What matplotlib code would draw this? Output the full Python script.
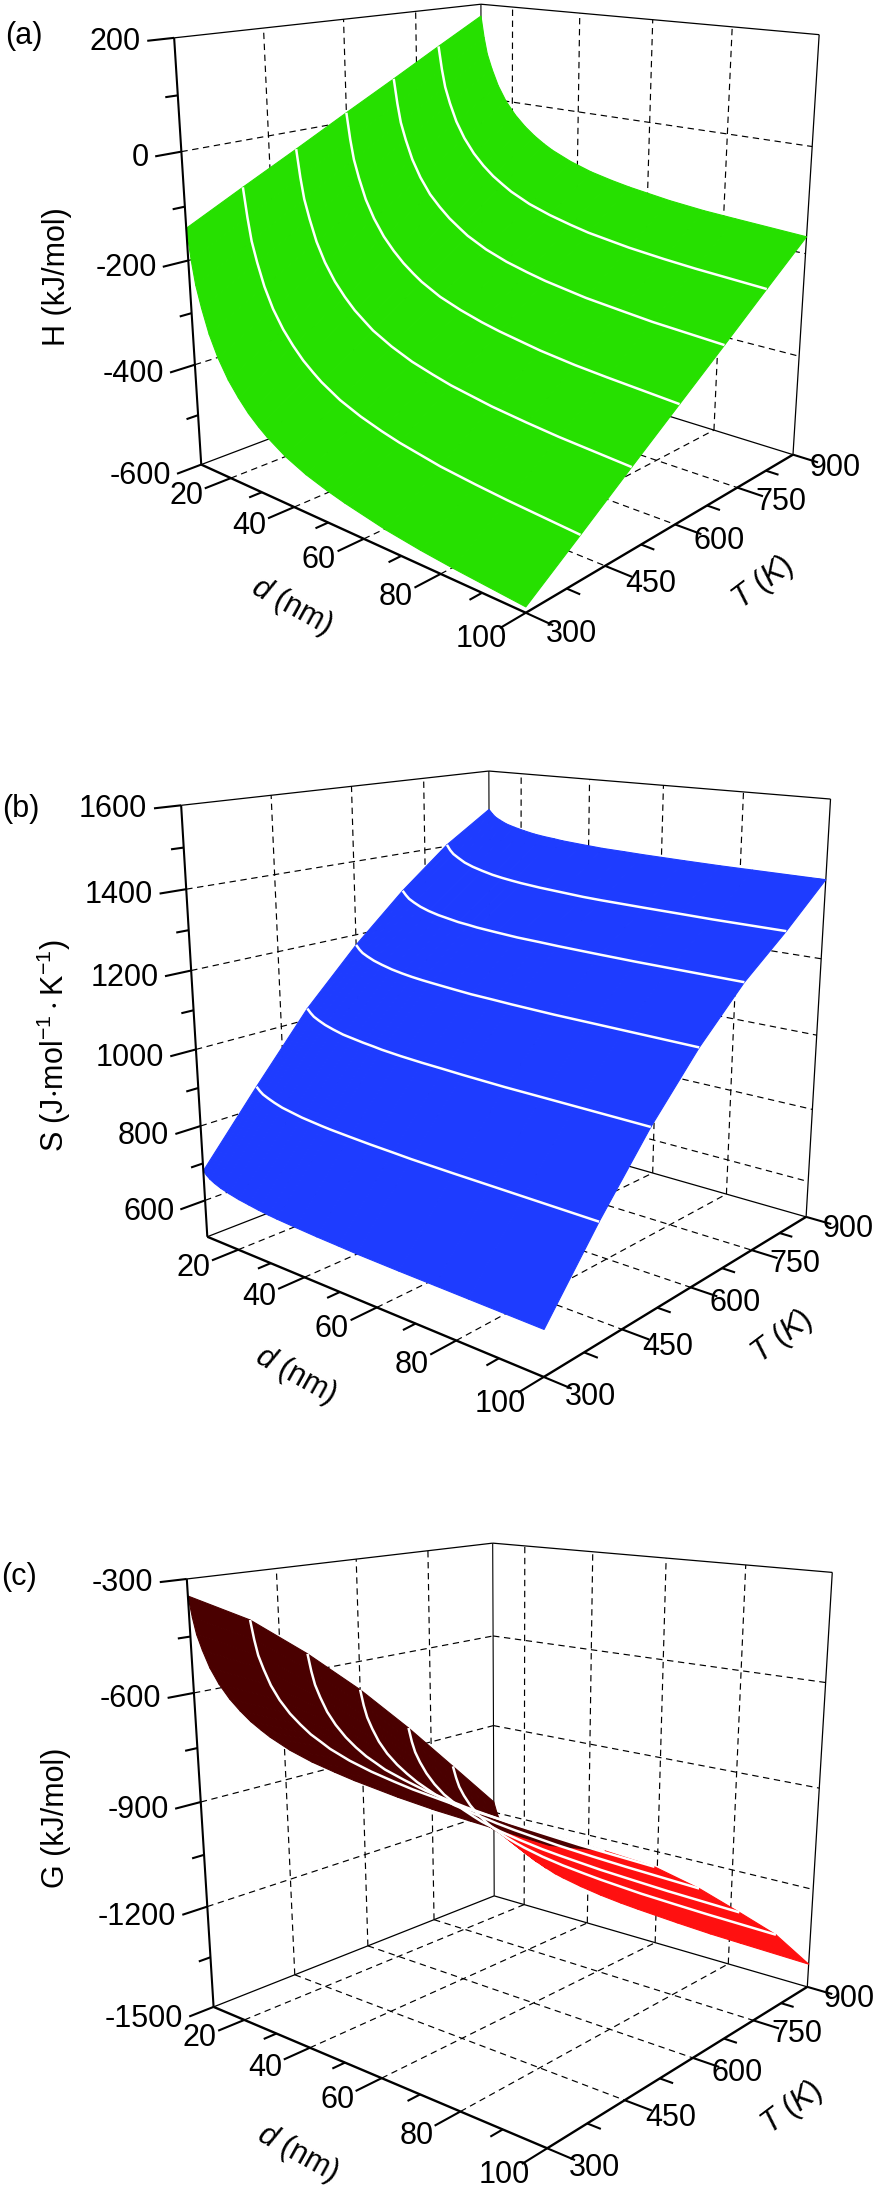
import numpy as np
import matplotlib
matplotlib.use('Agg')
import matplotlib.pyplot as plt
from mpl_toolkits.mplot3d import proj3d

plt.rcParams['font.family'] = ['Liberation Sans', 'DejaVu Sans']
plt.rcParams['mathtext.fontset'] = 'custom'
plt.rcParams['mathtext.rm'] = 'Liberation Sans'
plt.rcParams['mathtext.it'] = 'Liberation Sans:italic'
plt.rcParams['mathtext.default'] = 'regular'

D = [10, 11, 12, 13.5, 15.5, 18, 21, 24, 27, 30, 32.5, 38, 44, 50, 55, 66, 75, 83, 100]
T = [300, 400, 500, 600, 700, 800, 900]
H = [[-140,-198,-243,-284,-329,-369,-405,-432,-455,-473,-486,-509,-527,-540,-549,-565,-574,-580,-590],
     [-87,-143,-187,-226,-269,-308,-342,-368,-390,-407,-420,-442,-459,-472,-481,-496,-504,-510,-520],
     [-35,-89,-130,-167,-209,-246,-279,-304,-325,-341,-354,-374,-391,-403,-412,-426,-434,-440,-449],
     [18,-34,-73,-109,-149,-184,-216,-240,-260,-276,-288,-308,-323,-335,-343,-357,-365,-370,-379],
     [70,21,-17,-51,-89,-123,-154,-176,-195,-210,-222,-241,-256,-267,-275,-288,-295,-301,-309],
     [123,76,40,7,-29,-61,-90,-112,-130,-144,-155,-173,-187,-198,-206,-218,-225,-230,-238],
     [175,130,96,65,31,0,-27,-48,-65,-79,-89,-106,-120,-130,-137,-149,-156,-160,-168]]
S = [[680,671,664,657,650,644,638,634,630,627,625,622,619,617,615,613,612,611,609],
     [858,849,842,836,829,822,817,812,809,806,804,801,798,796,794,792,791,790,788],
     [1030,1020,1012,1005,997,990,983,979,975,972,969,965,962,960,958,955,954,953,951],
     [1172,1161,1153,1146,1138,1131,1124,1119,1115,1112,1110,1106,1102,1100,1098,1095,1094,1093,1091],
     [1296,1285,1276,1268,1259,1251,1244,1239,1234,1231,1228,1224,1220,1218,1216,1213,1211,1210,1208],
     [1404,1390,1380,1371,1360,1351,1343,1336,1331,1327,1324,1319,1315,1311,1309,1306,1304,1302,1300],
     [1488,1477,1468,1460,1451,1444,1437,1431,1427,1424,1421,1417,1413,1411,1409,1406,1404,1403,1401]]
G = [[-344,-399,-442,-481,-524,-562,-596,-622,-644,-661,-674,-696,-713,-725,-734,-749,-758,-763,-773],
     [-430,-483,-524,-560,-601,-637,-669,-693,-714,-729,-742,-762,-778,-790,-799,-813,-820,-826,-835],
     [-550,-599,-636,-670,-708,-741,-771,-794,-813,-827,-839,-856,-872,-883,-891,-904,-911,-917,-925],
     [-685,-731,-765,-797,-832,-863,-890,-911,-929,-943,-954,-972,-984,-995,-1002,-1014,-1021,-1026,-1034],
     [-837,-879,-910,-939,-970,-999,-1025,-1043,-1059,-1072,-1082,-1098,-1110,-1120,-1126,-1137,-1143,-1148,-1155],
     [-1000,-1036,-1064,-1090,-1117,-1142,-1164,-1181,-1195,-1206,-1214,-1228,-1239,-1247,-1253,-1263,-1268,-1272,-1278],
     [-1164,-1199,-1225,-1249,-1275,-1300,-1320,-1336,-1349,-1361,-1368,-1381,-1392,-1400,-1405,-1414,-1420,-1423,-1429]]

d_major = [20, 40, 60, 80, 100]
d_minor = [30, 50, 70, 90]
T_major = [300, 450, 600, 750, 900]
T_minor = [375, 525, 675, 825]
Ha_major = [-600, -400, -200, 0, 200]
Ha_minor = [-500, -300, -100, 100]
Sb_major = [600, 800, 1000, 1200, 1400, 1600]
Sb_minor = [700, 900, 1100, 1300, 1500]
Gc_major = [-1500, -1200, -900, -600, -300]
Gc_minor = [-1350, -1050, -750, -450]

# camera of each panel: elev, azim, focal length, box x, box y, axes centre px, axes size px
cam_a = (15.881, -48.187, np.exp(-1.047), np.exp(0.009), np.exp(-0.021), 489.621, 266.960, np.exp(6.601))
cam_b = (15.360, -49.811, np.exp(-1.026), np.exp(0.007), np.exp(0.004), 501.653, 1033.006, np.exp(6.609))
cam_c = (15.748, -49.813, np.exp(-1.031), np.exp(0.006), np.exp(0.003), 505.421, 1804.903, np.exp(6.602))

W, HH = 889, 2193
FS = 22
fig = plt.figure(figsize=(W/100, HH/100), dpi=100)
fig.patch.set_facecolor('white')


def panel(zv, zlim, zmaj, zmin, zgrid, color, cam, under=None):
    elev, azim, f, bx, by, cx, cy, s = cam
    ax = fig.add_axes([(cx-s/2)/W, 1-(cy+s/2)/HH, s/W, s/HH], projection='3d')
    ax.set_axis_off()
    ax.patch.set_alpha(0)
    ax.computed_zorder = False
    ax.view_init(elev=elev, azim=azim)
    ax.set_proj_type('persp', focal_length=float(f))
    ax.set_box_aspect((float(bx), float(by), 1.0))
    z0, z1 = zlim
    ax.set_xlim(10, 100, view_margin=0)
    ax.set_ylim(300, 900, view_margin=0)
    ax.set_zlim(z0, z1, view_margin=0)

    def L(xs, ys, zs, lw=1.0, ls='-', c='k', zo=1):
        ln, = ax.plot(xs, ys, zs, color=c, lw=lw, zorder=zo, clip_on=False, solid_capstyle='butt')
        if ls == '--':
            ln.set_dashes((5.4, 3.9))
        return ln

    for t in T_major[1:-1]:
        L([10, 10], [t, t], zlim, .85, '--')
        L([10, 100], [t, t], [z0, z0], .85, '--')
    for d in d_major[:-1]:
        L([d, d], [900, 900], zlim, .85, '--')
        L([d, d], [300, 900], [z0, z0], .85, '--')
    for z in zgrid:
        L([10, 10], [300, 900], [z, z], .85, '--')
        L([10, 100], [900, 900], [z, z], .85, '--')
    L([10, 10], [900, 900], zlim, .8)
    L([10, 10], [300, 900], [z1, z1], .9)
    L([10, 100], [900, 900], [z1, z1], .9)
    L([100, 100], [900, 900], zlim, .9)
    L([10, 10], [300, 900], [z0, z0], .9)
    L([10, 100], [900, 900], [z0, z0], .9)

    DD, TT = np.meshgrid(D, T)
    ZZ = np.array(zv, float)
    fc = np.empty(ZZ.shape + (4,))
    fc[...] = matplotlib.colors.to_rgba(color)
    if under is not None:
        M = ax.get_proj()
        x, y, _ = proj3d.proj_transform(DD.ravel(), TT.ravel(), ZZ.ravel(), M)
        x = np.asarray(x).reshape(ZZ.shape)
        y = np.asarray(y).reshape(ZZ.shape)
        for i in range(ZZ.shape[0]-1):
            for j in range(ZZ.shape[1]-1):
                a = ((x[i, j+1]-x[i, j])*(y[i+1, j]-y[i, j])
                     - (y[i, j+1]-y[i, j])*(x[i+1, j]-x[i, j]))
                if a < 0:
                    fc[i, j] = matplotlib.colors.to_rgba(under)
    ax.plot_surface(DD, TT, ZZ, facecolors=fc, rstride=1, cstride=1, shade=False,
                    antialiased=True, linewidth=.8, zorder=5)
    for i in range(1, 6):
        L(D, [T[i]]*len(D), ZZ[i], 1.8, c='white', zo=6)

    L([10, 10], [300, 300], zlim, 1.5, zo=7)
    L([10, 100], [300, 300], [z0, z0], 1.7, zo=7)
    L([100, 100], [300, 900], [z0, z0], 1.7, zo=7)
    for d in d_major:
        L([d, d], [255, 300], [z0, z0], 1.5, zo=7)
        ax.text(d, 224, z0, str(d), ha='center', va='center', fontsize=FS, zorder=8)
    for d in d_minor:
        L([d, d], [278, 300], [z0, z0], 1.5, zo=7)
    for t in T_major:
        L([100, 106], [t, t], [z0, z0], 1.5, zo=7)
        ax.text(110, t, z0, str(t), ha='center', va='center', fontsize=FS, zorder=8)
    for t in T_minor:
        L([100, 103], [t, t], [z0, z0], 1.5, zo=7)
    for z in zmaj:
        L([10, 10], [258, 300], [z, z], 1.5, zo=7)
        ax.text(10, 248, z, str(z), ha='right', va='center', fontsize=FS, zorder=8)
    for z in zmin:
        L([10, 10], [280, 300], [z, z], 1.5, zo=7)
    return ax


panel(H, (-600, 200), Ha_major, Ha_minor, [-400, -200, 0], '#26E000', cam_a)
panel(S, (500, 1600), Sb_major, Sb_minor, [600, 800, 1000, 1200, 1400], '#1E3CFF', cam_b)
panel(G, (-1500, -300), Gc_major, Gc_minor, [-1200, -900, -600], '#4A0000', cam_c, under='#FF1010')


def ftext(x, y, s, **kw):
    fig.text(x/W, 1-y/HH, s, ha='center', va='center', fontsize=FS, **kw)


ftext(24, 36, '(a)')
ftext(21, 809, '(b)')
ftext(19, 1577, '(c)')
ftext(57, 277, 'H (kJ/mol)', rotation=90)
ftext(54, 1046, r'S (J$\cdot$mol$^{-1}\cdot$K$^{-1}$)', rotation=90)
ftext(56, 1818, 'G (kJ/mol)', rotation=90)
for x, y in [(292, 607), (296, 1376), (298, 2154)]:
    ftext(x, y, r'$\mathit{d}$ (nm)', rotation=-29)
for x, y in [(763, 583), (782, 1337), (792, 2108)]:
    ftext(x, y, r'$\mathit{T}$ ($\mathit{K}$)', rotation=37)

fig.savefig('out.png', dpi=100)
